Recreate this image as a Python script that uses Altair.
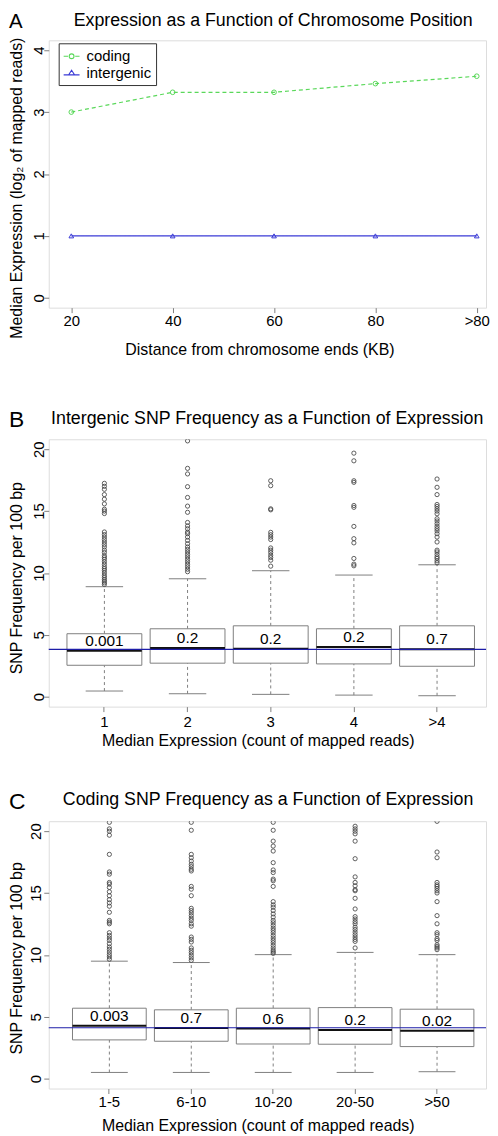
import altair as alt
import pandas as pd

FONT = "Liberation Sans"
GRAY = "#7f7f7f"
GREEN = "#5ad85a"
BLUE = "#3a3ad6"
NAVY = "#1c1ca8"

# ---------------- Panel A data ----------------
dist_labels = ["20", "40", "60", "80", ">80"]
coding_expr = [3.0, 3.32, 3.32, 3.46, 3.58]
intergenic_expr = [1.0, 1.0, 1.0, 1.0, 1.0]
series_names = ["coding", "intergenic"]
letters = ["A", "B", "C"]
panel_titles = [
    "Expression as a Function of Chromosome Position",
    "Intergenic SNP Frequency as a Function of Expression",
    "Coding SNP Frequency as a Function of Expression",
]

# ---------------- Panel B data ----------------
b_cats = ["1", "2", "3", "4", ">4"]
b_q1 = [2.54, 2.71, 2.71, 2.65, 2.46]
b_med = [3.72, 3.94, 3.88, 4.02, 3.83]
b_q3 = [5.09, 5.49, 5.73, 5.49, 5.73]
b_lo = [0.46, 0.24, 0.19, 0.13, 0.08]
b_hi = [8.89, 9.53, 10.18, 9.83, 10.66]
b_p = ["0.001", "0.2", "0.2", "0.2", "0.7"]
b_ref = 3.83
b_out = [
    [17.24, 17.0, 16.76, 16.33, 15.96, 15.58, 15.15, 15.0, 14.8, 13.31, 13.1, 12.9, 12.7, 12.5, 12.3,
     12.1, 11.85, 11.65, 11.4, 11.25, 11.1, 10.9, 10.7, 10.5, 10.35, 10.2, 10.0, 9.8, 9.64, 9.48,
     9.34, 9.2, 9.07],
    [20.67, 18.45, 18.0, 16.97, 16.1, 15.4, 14.9, 14.08, 13.8, 13.57, 13.3, 13.17, 12.9, 12.63,
     12.36, 12.1, 11.9, 11.7, 11.5, 11.3, 11.1, 10.9, 10.7, 10.5, 10.3, 10.1],
    [17.45, 17.05, 15.18, 15.1, 13.28, 13.09, 12.9, 12.7, 12.02, 11.84, 11.65, 11.43, 11.25, 11.03,
     10.55],
    [19.68, 19.06, 17.45, 17.32, 15.45, 15.3, 13.76, 12.77, 12.43, 11.17, 10.71, 10.58],
    [17.59, 16.92, 16.33, 15.53, 15.37, 15.18, 15.0, 14.78, 14.38, 14.2, 13.98, 13.77, 13.58, 13.4,
     13.17, 12.9, 12.5, 11.84, 11.7, 11.5, 11.3, 11.17, 10.98, 10.82],
]

# ---------------- Panel C data ----------------
c_cats = ["1-5", "6-10", "10-20", "20-50", ">50"]
c_q1 = [3.13, 3.02, 2.80, 2.78, 2.59]
c_med = [4.27, 4.09, 4.05, 3.93, 3.87]
c_q3 = [5.69, 5.56, 5.69, 5.74, 5.61]
c_lo = [0.5, 0.5, 0.5, 0.5, 0.56]
c_hi = [9.49, 9.38, 10.02, 10.2, 10.02]
c_p = ["0.003", "0.7", "0.6", "0.2", "0.02"]
c_ref = 4.11
c_out = [
    [20.71, 20.18, 19.99, 19.67, 18.12, 16.7, 16.52, 15.85, 15.72, 15.45, 15.1, 14.78, 14.46, 14.2,
     13.93, 13.44, 12.78, 12.64, 12.51, 11.79, 11.57, 11.36, 11.17, 10.9, 10.64, 10.45, 10.23,
     10.02, 9.84, 9.65],
    [20.71, 20.07, 18.12, 17.85, 17.58, 17.32, 17.13, 16.92, 16.78, 15.53, 15.31, 14.78, 13.76,
     13.58, 13.39, 13.17, 12.96, 12.78, 12.51, 12.32, 11.44, 11.25, 11.04, 10.56, 10.37, 10.18,
     9.97, 9.76, 9.56],
    [20.71, 20.07, 19.19, 18.79, 18.39, 17.45, 16.86, 16.65, 16.12, 15.99, 15.53, 14.3, 14.04,
     13.85, 13.58, 13.31, 13.05, 12.78, 12.59, 12.38, 12.16, 11.98, 11.79, 11.57, 11.36, 11.17,
     10.98, 10.77, 10.56, 10.37, 10.24, 10.12],
    [20.39, 20.18, 19.99, 19.78, 19.19, 17.77, 16.3, 15.85, 15.58, 15.26, 15.18, 14.57, 13.71,
     13.09, 12.9, 12.69, 12.51, 12.24, 12.05, 11.84, 11.63, 11.44, 11.25, 11.09, 10.56],
    [20.79, 18.31, 17.85, 15.85, 15.66, 15.53, 15.37, 15.18, 15.0, 14.3, 13.17, 12.51, 11.79,
     11.63, 11.31, 11.17, 10.82, 10.69, 10.56, 10.42],
]

W = 440   # plot width of every panel
H = 269   # plot height of every panel
TITLE_SIZE = 17.9

AX = dict(domain=False, grid=False, tickColor=GRAY, tickSize=5, labelFont=FONT, labelFontSize=15,
          labelColor="black", titleFont=FONT, titleFontSize=16, titleFontWeight="normal",
          titleColor="black", labelOverlap=False, labelFlush=False)


def yaxis(values, title, lab_pad, tx, ty, talign="center"):
    return alt.Axis(values=values, title=title, labelAngle=270, labelAlign="center",
                    labelBaseline="alphabetic", labelPadding=lab_pad, titleAngle=270,
                    titleAlign=talign, titleBaseline="middle", titleX=tx, titleY=ty, **AX)


def xaxis(title, lab_pad, tx, ty):
    return alt.Axis(title=title, labelAngle=0, labelBaseline="middle", labelPadding=lab_pad,
                    titleAlign="center", titleBaseline="middle", titleX=tx, titleY=ty, **AX)


def heading_layers(letter, title, lx, ly, lsize, tx, ty):
    d = pd.DataFrame({"letter": [letter], "title": [title]})
    let = alt.Chart(d).mark_text(font=FONT, fontSize=lsize, align="left", baseline="middle",
                                 color="black").encode(text="letter:N", x=alt.value(lx), y=alt.value(ly))
    tit = alt.Chart(d).mark_text(font=FONT, fontSize=TITLE_SIZE, align="center", baseline="middle",
                                 color="black").encode(text="title:N", x=alt.value(tx), y=alt.value(ty))
    return [let, tit]


# ---------------- Panel A ----------------
dfA = pd.DataFrame({
    "dist": dist_labels * 2,
    "series": [series_names[0]] * len(dist_labels) + [series_names[1]] * len(dist_labels),
    "expr": coding_expr + intergenic_expr,
})
xA = alt.X("dist:O", sort=dist_labels, scale=alt.Scale(type="point", padding=0.157, align=0.709),
           axis=xaxis("Distance from chromosome ends (KB)", 8.25, 212, 42))
yA = alt.Y("expr:Q", scale=alt.Scale(domain=[-0.16, 4.16], nice=False, zero=False),
           axis=yaxis([0, 1, 2, 3, 4], "Median Expression (log\u2082 of mapped reads)", 0, -32, -3.25,
                      talign="right"))


def colA(legend):
    return alt.Color("series:N", scale=alt.Scale(domain=series_names, range=[GREEN, BLUE]), legend=legend)


lineA = alt.Chart(dfA).mark_line(strokeWidth=1.2).encode(
    x=xA, y=yA, color=colA(None),
    strokeDash=alt.StrokeDash("series:N", scale=alt.Scale(domain=series_names, range=[[4, 3], [1, 0]]),
                              legend=None),
)
ptsA = alt.Chart(dfA).mark_point(filled=False, size=22, strokeWidth=1, opacity=1).encode(
    x=xA, y=yA, color=colA(None),
    shape=alt.Shape("series:N", scale=alt.Scale(domain=series_names, range=["circle", "triangle-up"]),
                    legend=None),
)
PATH_C = "M-1,0H-0.45M0.45,0H1M0.3,0A0.3,0.3,0,1,1,-0.3,0A0.3,0.3,0,1,1,0.3,0"
PATH_I = "M-1,0.22H1M0,-0.36L0.38,0.22L-0.38,0.22Z"
legA = alt.Legend(title=None, orient="none", legendX=10, legendY=3, padding=4, strokeColor="#333",
                  fillColor="white", labelFont=FONT, labelFontSize=15, labelColor="black",
                  symbolSize=256, symbolStrokeWidth=1.1, symbolOpacity=1, rowPadding=0, labelOffset=6)
legLayer = alt.Chart(dfA).transform_filter("false").mark_point(filled=False, opacity=1).encode(
    x=xA, y=yA,
    color=colA(legA),
    shape=alt.Shape("series:N", scale=alt.Scale(domain=series_names, range=[PATH_C, PATH_I]), legend=legA),
)
panelA = alt.layer(
    lineA, ptsA, legLayer,
    *heading_layers(letters[0], panel_titles[0], -40, -18, 20.5, 225.8, -19.25)
).resolve_scale(shape="independent", color="independent").properties(width=W, height=H)


# ---------------- Box panels ----------------
def box_panel(cats, q1, med, q3, lo, hi, pvals, outs, ref, pad_out, align, letter, title, ly,
              tx, ty, xpad, xtx, xty, ypad, yty):
    df = pd.DataFrame({"cat": cats, "q1": q1, "med": med, "q3": q3, "lo": lo, "hi": hi, "p": pvals})
    odf = pd.DataFrame([{"cat": c, "v": v} for c, vs in zip(cats, outs) for v in vs])
    rdf = pd.DataFrame({"ref": [ref]})
    xs = alt.Scale(type="band", domain=cats, paddingInner=0.1, paddingOuter=pad_out, align=align)
    ys = alt.Scale(domain=[-0.8, 20.8], nice=False, zero=False)
    xax = xaxis("Median Expression (count of mapped reads)", xpad, xtx, xty)
    yax = yaxis([0, 5, 10, 15, 20], "SNP Frequency per 100 bp", ypad, -32, yty)

    def X(bp=None):
        if bp is None:
            return alt.X("cat:N", scale=xs, sort=cats, axis=xax)
        return alt.X("cat:N", scale=xs, sort=cats, axis=xax, bandPosition=bp)

    def Y(f):
        return alt.Y(f + ":Q", scale=ys, axis=yax)

    base = alt.Chart(df)
    w_up = base.mark_rule(color=GRAY, strokeDash=[3, 3], strokeWidth=1).encode(x=X(), y=Y("q3"), y2="hi:Q")
    w_dn = base.mark_rule(color=GRAY, strokeDash=[3, 3], strokeWidth=1).encode(x=X(), y=Y("lo"), y2="q1:Q")
    cap_hi = base.mark_rule(color=GRAY, strokeWidth=1).encode(
        x=X(0.25), x2=alt.X2("cat:N", bandPosition=0.75), y=Y("hi"))
    cap_lo = base.mark_rule(color=GRAY, strokeWidth=1).encode(
        x=X(0.25), x2=alt.X2("cat:N", bandPosition=0.75), y=Y("lo"))
    box = base.mark_bar(fill="white", stroke=GRAY, strokeWidth=1).encode(x=X(), y=Y("q1"), y2="q3:Q")
    medl = base.mark_rule(color="#111111", strokeWidth=2).encode(
        x=X(0.0), x2=alt.X2("cat:N", bandPosition=1.0), y=Y("med"))
    pts = alt.Chart(odf).mark_point(shape="circle", filled=False, size=18, color="#444444",
                                    strokeWidth=0.85, opacity=1, clip=True).encode(x=X(), y=Y("v"))
    refl = alt.Chart(rdf).mark_rule(color=NAVY, strokeWidth=1.2).encode(y=Y("ref"))
    txt = base.mark_text(font=FONT, fontSize=15.5, baseline="alphabetic", dy=-5, color="black").encode(
        x=X(), y=Y("med"), text="p:N")
    return alt.layer(w_up, w_dn, cap_hi, cap_lo, box, medl, pts, refl, txt,
                     *heading_layers(letter, title, -40, ly, 23, tx, ty)).properties(width=W, height=H)


panelB = box_panel(b_cats, b_q1, b_med, b_q3, b_lo, b_hi, b_p, b_out, b_ref, 0.179, 0.612,
                   letters[1], panel_titles[1], -19, 219.8, -20,
                   9.6, 210.3, 34.6, 0.7, 139.3)
panelC = box_panel(c_cats, c_q1, c_med, c_q3, c_lo, c_hi, c_p, c_out, c_ref, 0.219, 0.662,
                   letters[2], panel_titles[2], -19.2, 220.7, -21,
                   8.5, 210.3, 37, 3, 137.5)

lower = alt.concat(panelB, panelC, columns=1, bounds="flush", spacing=115.3)
chart = alt.concat(panelA, lower, columns=1, spacing=50.45).properties(
    padding=0
).configure_view(stroke=GRAY, strokeWidth=1).configure(font=FONT)

chart.save("out.html", embed_options={"renderer": "svg", "actions": False})
